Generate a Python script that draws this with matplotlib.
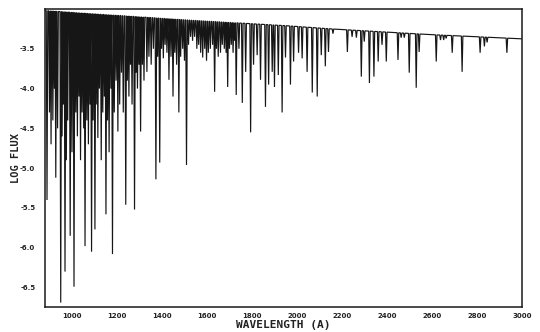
import numpy as np
import matplotlib
matplotlib.use("Agg")
import matplotlib.pyplot as plt

# Continuum level (log flux) at a few wavelengths
cont_wl = [880, 1520, 1950, 2150, 2580, 3000]
cont_flux = [-3.02, -3.14, -3.21, -3.25, -3.32, -3.375]

# Absorption lines: central wavelength (A) and log flux at line centre
line_wl = [
    889, 900, 907, 915, 922, 928, 936, 950, 956, 962, 969, 975, 981, 992,
    1000, 1009, 1017, 1024, 1031, 1038, 1045, 1052, 1058, 1066, 1073, 1080,
    1087, 1094, 1102, 1108, 1115, 1122, 1130, 1137, 1144, 1151, 1158, 1165,
    1173, 1180, 1188, 1196, 1204, 1212, 1220, 1228, 1239, 1246, 1253, 1260,
    1267, 1278, 1285, 1291, 1298, 1305, 1313, 1320,
    1333, 1342, 1352, 1362, 1373, 1381, 1390, 1398, 1406, 1414, 1422, 1431,
    1440, 1449, 1457, 1465, 1475, 1483, 1492, 1500, 1509, 1518, 1527, 1536,
    1545, 1555, 1563, 1572, 1581, 1590, 1598, 1606, 1615, 1625, 1634, 1642,
    1650, 1660, 1668, 1677, 1685, 1692, 1700, 1708, 1716, 1723, 1730, 1742,
    1757, 1772, 1794, 1807, 1823, 1838, 1860, 1874, 1890, 1900, 1917, 1934,
    1949, 1971, 1985, 2007, 2023, 2045, 2068, 2090, 2108, 2126, 2140,
    2160, 2224, 2245, 2264, 2286, 2299, 2322, 2342, 2361, 2378, 2397, 2449,
    2463, 2477, 2499, 2530, 2543,
    2619, 2638, 2652, 2663, 2690, 2734, 2814, 2833, 2845, 2933,
]
line_min = [
    -5.40, -4.30, -4.70, -4.40, -4.00, -5.12, -4.50, -6.69, -4.60, -4.20,
    -6.30, -4.90, -4.40, -5.85, -4.80, -6.49, -4.30, -4.60, -4.10, -4.90,
    -4.30, -4.50, -5.98, -4.40, -4.70, -4.20, -6.05, -4.40, -5.77, -4.20,
    -4.62, -4.00, -4.90, -4.30, -4.10, -5.58, -4.40, -4.80, -4.00, -6.08,
    -4.30, -3.90, -4.54, -4.20, -3.80, -4.30, -5.46, -3.90, -4.10, -3.70,
    -4.20, -5.52, -3.80, -4.00, -3.70, -4.54, -3.70, -3.90,
    -3.79, -3.60, -3.70, -3.50, -5.14, -3.60, -4.93, -3.50, -3.62, -3.45,
    -3.55, -3.89, -3.60, -4.10, -3.55, -3.70, -4.30, -3.60, -3.50, -3.65,
    -4.96, -3.45, -3.35, -3.40, -3.35, -3.50, -3.45, -3.55, -3.61, -3.50,
    -3.65, -3.55, -3.50, -3.45, -4.04, -3.50, -3.60, -3.55, -3.45, -3.50,
    -3.55, -3.98, -3.50, -3.45, -3.55, -3.40, -4.08, -3.50,
    -4.18, -3.79, -4.55, -3.70, -3.58, -3.89, -4.23, -3.95, -3.79, -3.98,
    -3.83, -4.30, -3.61, -3.95, -3.66, -3.55, -3.62, -3.79, -4.05, -4.10,
    -3.58, -3.72, -3.54,
    -3.31, -3.54, -3.35, -3.36, -3.85, -3.41, -3.93, -3.85, -3.66, -3.45,
    -3.66, -3.64, -3.36, -3.36, -3.80, -3.99, -3.54,
    -3.66, -3.39, -3.39, -3.37, -3.55, -3.79, -3.55, -3.47, -3.42, -3.55,
]

x_ticks = [1000, 1200, 1400, 1600, 1800, 2000, 2200, 2400, 2600, 2800, 3000]
y_ticks = [-3.5, -4.0, -4.5, -5.0, -5.5, -6.0, -6.5]


def continuum(w):
    return np.interp(w, cont_wl, cont_flux)


# trace the spectrum: continuum with a narrow V at every line
half_width = 3.4
xs, ys = [cont_wl[0]], [continuum(cont_wl[0])]
for w, f in sorted(zip(line_wl, line_min)):
    xs += [w - half_width, w, w + half_width]
    ys += [continuum(w - half_width), f, continuum(w + half_width)]
xs.append(cont_wl[-1])
ys.append(continuum(cont_wl[-1]))

fig = plt.figure(figsize=(5.4, 3.32), dpi=100)
ax = fig.add_axes([0.0833, 0.0753, 0.8833, 0.8976])
ax.plot(xs, ys, color="#161616", lw=0.85, solid_joinstyle="miter")

ax.set_xlim(880, 3000)
ax.set_ylim(-6.745, -3.0)
ax.set_xticks(x_ticks)
ax.set_yticks(y_ticks)
ax.set_xticklabels([str(t) for t in x_ticks])
ax.set_yticklabels([f"{t:.1f}" for t in y_ticks])
ax.tick_params(axis="both", length=0, labelsize=5, colors="#222222")
ax.tick_params(axis="x", pad=4)
ax.tick_params(axis="y", pad=7)
for lab in ax.get_xticklabels() + ax.get_yticklabels():
    lab.set_fontweight("bold")

for side in ax.spines.values():
    side.set_linewidth(1.1)
    side.set_color("#1a1a1a")

ax.set_xlabel("WAVELENGTH (A)", fontsize=8, fontweight="bold",
              family="DejaVu Sans Mono", color="#222222")
ax.set_ylabel("LOG FLUX", fontsize=7.5, fontweight="bold",
              family="DejaVu Sans Mono", color="#222222")
ax.xaxis.set_label_coords(0.50, -0.045)
ax.yaxis.set_label_coords(-0.05, 0.50)

fig.savefig("out.png", dpi=100)
